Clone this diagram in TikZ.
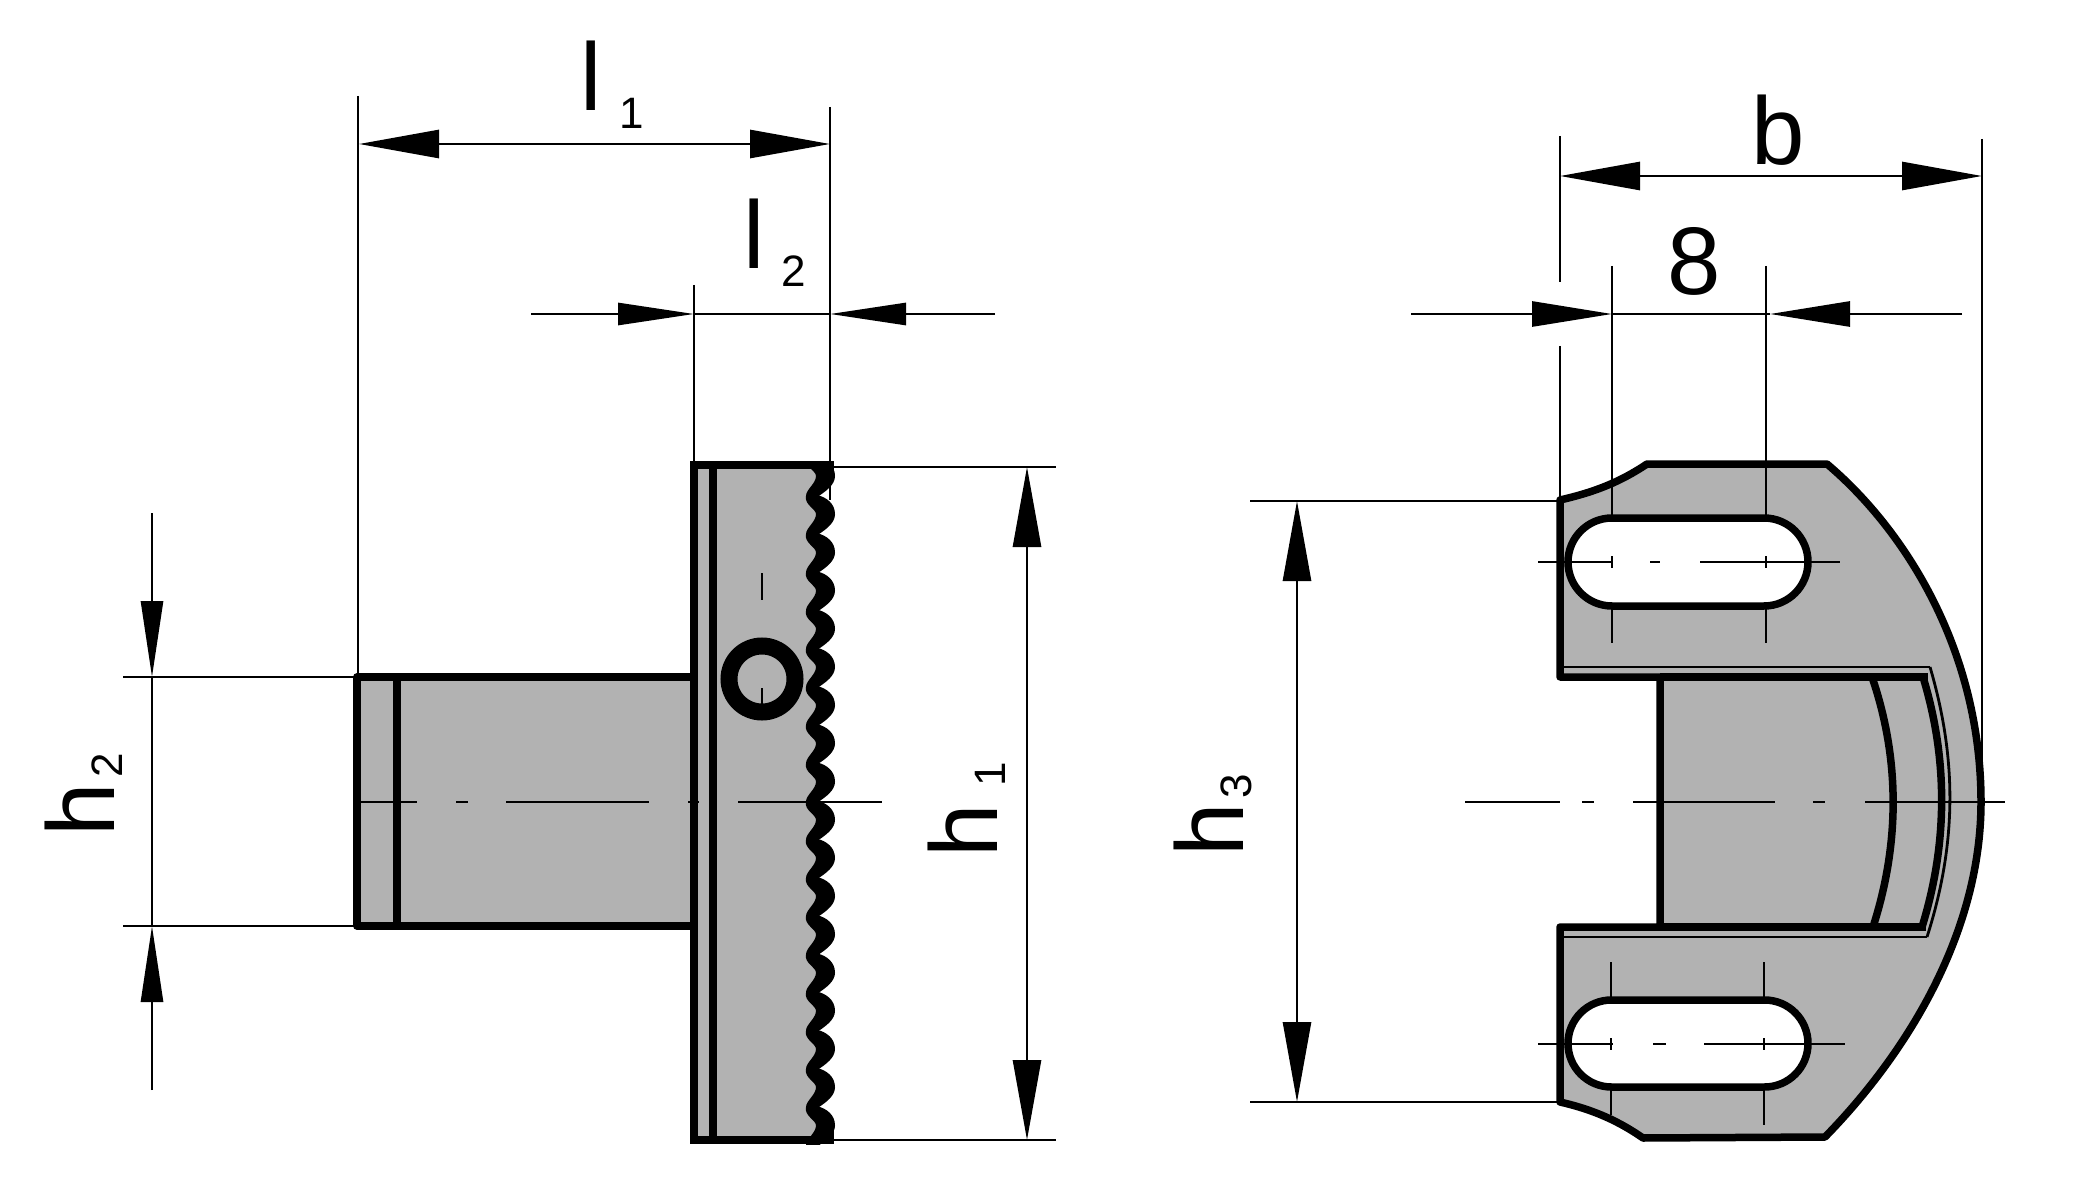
\documentclass[tikz,border=0pt]{standalone}
\usepackage{fontspec}
\setmainfont{Liberation Sans}
\usetikzlibrary{arrows.meta}
\definecolor{partgray}{RGB}{178,178,178}
\tikzset{
	outline/.style={draw=black, line width=7.5pt, fill=partgray, line join=round},
	edge/.style={draw=black, line width=7.5pt},
	thin/.style={draw=black, line width=2.8pt},
	dimtip/.style={-{Triangle[length=80pt, width=28pt]}, draw=black, line width=2.8pt},
	smalltip/.style={-{Triangle[length=76pt, width=22pt]}, draw=black, line width=2.8pt},
	midtip/.style={-{Triangle[length=80pt, width=25pt]}, draw=black, line width=2.8pt},
	dimlabel/.style={inner sep=0pt, font=\fontsize{96}{96}\selectfont},
}
\newcommand{\dimsub}[4]{#1\hspace{#3}\raisebox{#4}{\fontsize{44}{44}\selectfont #2}}
\begin{document}
\begin{tikzpicture}[x=1pt, y=-1pt]
	\useasboundingbox (0, 0) rectangle (2089, 1190);
	\fill[white] (0, 0) rectangle (2089, 1190);

	\draw[outline] (357, 677) rectangle (694, 926);
	\draw[edge] (397, 677) -- (397, 926);
	\fill[partgray] (694, 465) rectangle (818, 1140);
	\draw[edge] (825, 465) -- (694, 465) -- (694, 1140) -- (825, 1140);
	\draw[edge] (713, 465) -- (713, 1140);
	\begin{scope}
		\clip (700, 461) rectangle (840, 1144);
		\foreach \t in {0, ..., 17} {
			\pgfmathsetmacro{\p}{476+38.2*\t}
			\filldraw[line width=2pt, line join=round] (817, {\p-18.2}) .. controls (826, {\p-16}) and (834, {\p-10}) .. (834, \p) .. controls (834, {\p+8}) and (826, {\p+14}) .. (817, {\p+20}) -- (807, {\p+20}) .. controls (807, {\p+14}) and (817, {\p+8}) .. (817, \p) .. controls (817, {\p-6}) and (805, {\p-10}) .. (807, {\p-18.2}) -- cycle;
		}
		\fill (817, 461) rectangle (834, 480);
		\fill (817, 1125) rectangle (834, 1144);
	\end{scope}
	\draw[line width=17pt] (762, 679) circle (33);
	\draw[thin] (762, 573) -- (762, 600);
	\draw[thin] (762, 688) -- (762, 705);

	\foreach \xa/\xb in {361/417, 456/468, 506/649, 688/699, 738/882}
		\draw[thin] (\xa, 802) -- (\xb, 802);

	\draw[thin] (358, 96) -- (358, 677);
	\draw[thin] (830, 107) -- (830, 500);
	\draw[thin] (694, 285) -- (694, 465);
	\draw[thin] (830, 467) -- (1056, 467);
	\draw[thin] (830, 1140) -- (1056, 1140);
	\draw[thin] (123, 677) -- (357, 677);
	\draw[thin] (123, 926) -- (357, 926);

	\coordinate (lonemid) at (594, 144);
	\draw[dimtip] (lonemid) -- (359, 144);
	\draw[dimtip] (lonemid) -- (830, 144);
	\coordinate (ltwoleft) at (531, 314);
	\coordinate (ltworight) at (995, 314);
	\draw[smalltip] (ltwoleft) -- (694, 314);
	\draw[smalltip] (ltworight) -- (830, 314);
	\draw[thin] (694, 314) -- (830, 314);
	\coordinate (honemid) at (1027, 800);
	\draw[dimtip] (honemid) -- (1027, 467);
	\draw[dimtip] (honemid) -- (1027, 1140);
	\coordinate (htwotop) at (152, 513);
	\coordinate (htwobot) at (152, 1090);
	\draw[smalltip] (htwotop) -- (152, 677);
	\draw[smalltip] (htwobot) -- (152, 926);
	\draw[thin] (152, 677) -- (152, 926);

	\draw[outline] (1560, 500) .. controls (1595, 492) and (1620, 482) .. (1647, 464) -- (1827, 464)
		.. controls (1905, 530) and (1981, 650) .. (1981, 802) .. controls (1981, 930) and (1910, 1050) .. (1825, 1137)
		-- (1643, 1138) .. controls (1620, 1122) and (1595, 1110) .. (1560, 1102) -- (1560, 927) -- (1660, 927) -- (1660, 677) -- (1560, 677) -- cycle;
	\draw[edge] (1872, 677) .. controls (1900, 759) and (1900, 843) .. (1873, 927);
	\draw[edge] (1923, 677) .. controls (1948, 759) and (1948, 843) .. (1922, 927);
	\draw[thin] (1930, 667) .. controls (1957, 759) and (1957, 843) .. (1927, 937);
	\draw[thin] (1560, 667) -- (1930, 667);
	\draw[thin] (1560, 937) -- (1927, 937);
	\draw[edge] (1660, 677) -- (1928, 677);
	\draw[edge] (1660, 927) -- (1926, 927);
	\draw[outline, fill=white, rounded corners=44pt] (1568, 518) rectangle (1808, 606);
	\draw[outline, fill=white, rounded corners=43.5pt] (1568, 1000) rectangle (1808, 1087);

	\draw[thin] (1538, 562) -- (1612, 562);
	\draw[thin] (1650, 562) -- (1660, 562);
	\draw[thin] (1700, 562) -- (1840, 562);
	\draw[thin] (1538, 1044) -- (1613, 1044);
	\draw[thin] (1653, 1044) -- (1666, 1044);
	\draw[thin] (1704, 1044) -- (1845, 1044);
	\foreach \xa/\xb in {1465/1560, 1582/1594, 1633/1775, 1813/1825, 1865/2005}
		\draw[thin] (\xa, 802) -- (\xb, 802);

	\draw[thin] (1612, 266) -- (1612, 518);
	\draw[thin] (1766, 266) -- (1766, 518);
	\draw[thin] (1612, 606) -- (1612, 643);
	\draw[thin] (1766, 606) -- (1766, 643);
	\draw[thin] (1611, 962) -- (1611, 1000);
	\draw[thin] (1764, 962) -- (1764, 1000);
	\draw[thin] (1611, 1087) -- (1611, 1115);
	\draw[thin] (1764, 1087) -- (1764, 1125);
	\draw[thin] (1612, 556) -- (1612, 568);
	\draw[thin] (1766, 556) -- (1766, 568);
	\draw[thin] (1611, 1038) -- (1611, 1050);
	\draw[thin] (1764, 1038) -- (1764, 1050);

	\draw[thin] (1560, 136) -- (1560, 282);
	\draw[thin] (1560, 346) -- (1560, 500);
	\draw[thin] (1982, 139) -- (1982, 802);
	\draw[thin] (1250, 501) -- (1560, 501);
	\draw[thin] (1250, 1102) -- (1560, 1102);

	\coordinate (bmid) at (1770, 176);
	\draw[dimtip] (bmid) -- (1560, 176);
	\draw[dimtip] (bmid) -- (1982, 176);
	\coordinate (eightleft) at (1411, 314);
	\coordinate (eightright) at (1962, 314);
	\draw[midtip] (eightleft) -- (1612, 314);
	\draw[midtip] (eightright) -- (1770, 314);
	\draw[thin] (1612, 314) -- (1770, 314);
	\coordinate (hthreemid) at (1297, 800);
	\draw[dimtip] (hthreemid) -- (1297, 501);
	\draw[dimtip] (hthreemid) -- (1297, 1102);

	\draw (612, 85) node[dimlabel] (lone) {\dimsub{l}{1}{18pt}{-18pt}};
	\draw (775, 243) node[dimlabel] (ltwo) {\dimsub{l}{2}{17pt}{-18pt}};
	\draw (1778, 130) node[dimlabel] (bwidth) {b};
	\draw (1694, 261) node[dimlabel] (eight) {8};
	\draw (84, 795) node[dimlabel, rotate=90] (htwo) {\dimsub{h}{2}{6pt}{-8pt}};
	\draw (967, 810) node[dimlabel, rotate=90] (hone) {\dimsub{h}{1}{18pt}{-8pt}};
	\draw (1213, 815) node[dimlabel, rotate=90] (hthree) {\dimsub{h}{3}{5pt}{-8pt}};
\end{tikzpicture}
\end{document}
